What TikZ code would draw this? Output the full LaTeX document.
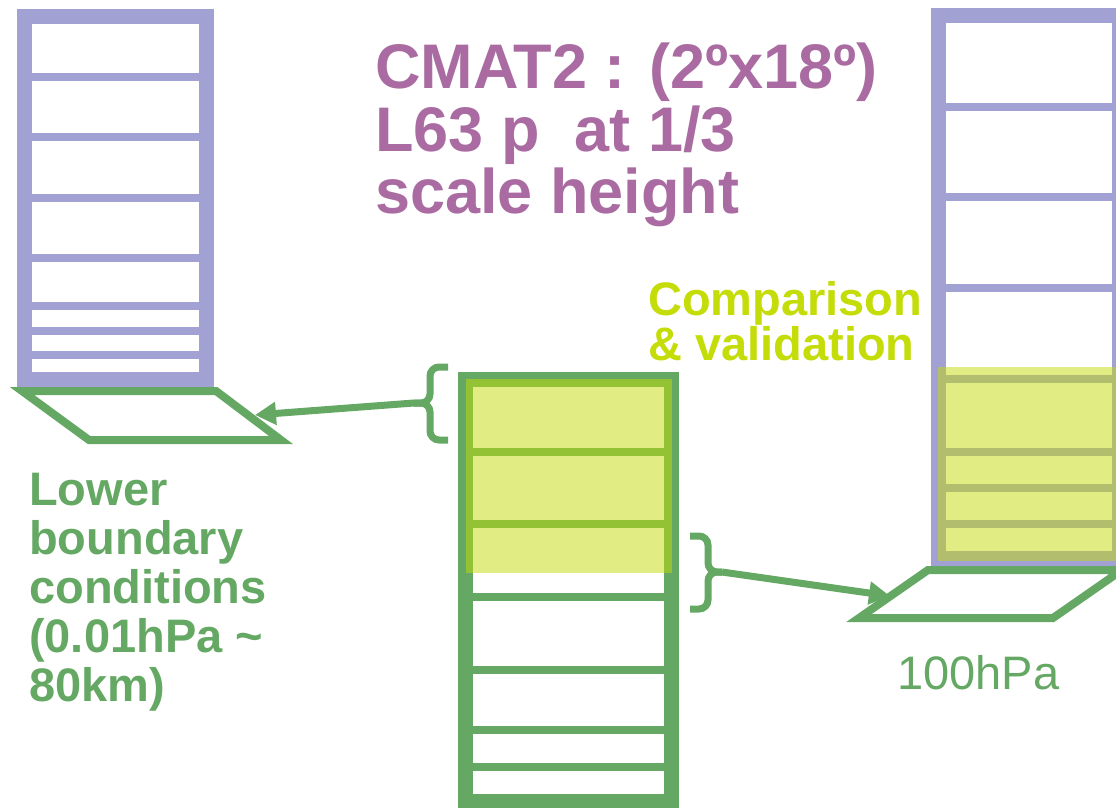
\documentclass[tikz,border=0pt]{standalone}
\usepackage{fontspec}
\setmainfont{Liberation Sans}
\usetikzlibrary{arrows.meta}
\definecolor{levelblue}{RGB}{161,161,212}
\definecolor{levelgreen}{RGB}{100,168,100}
\definecolor{titlepurple}{RGB}{169,107,161}
\definecolor{limegreen}{RGB}{196,220,8}

\tikzset{
  column/.style={line width=15pt},
  level/.style={line width=8pt},
  surface/.style={levelgreen, line width=8pt},
  overlap/.style={fill=limegreen, fill opacity=0.5},
  curly/.style={levelgreen, line width=7pt, rounded corners=9pt},
  feed/.style={levelgreen, line width=7pt, -{Triangle[length=21pt,width=22pt]}},
  bigtext/.style={anchor=north west, inner sep=0pt, align=left}
}

\begin{document}
\begin{tikzpicture}[x=1pt,y=-1pt]
    \useasboundingbox (0,0) rectangle (1116,808);

    % global model column
    \draw[levelblue, column] (24.5,16.5) rectangle (206,379);
    \foreach \y in {77,137,198,258,306,331,355}
        \draw[levelblue, level] (24.5,\y) -- (206,\y);
    \draw[surface] (22,391) -- (216,391) -- (281,440) -- (89,440) -- cycle;

    % middle column
    \draw[levelgreen, column] (465.5,379.5) rectangle (671.5,801.5);
    \foreach \y in {452,524,597,670,730,767}
        \draw[levelgreen, level] (465.5,\y) -- (671.5,\y);
    \fill[overlap] (466,379) rectangle (672,573);

    % right column
    \draw[levelblue, column] (938.5,15.5) rectangle (1119.5,558.5);
    \foreach \y in {107,197,288,379,452,488,524}
        \draw[levelblue, level] (938.5,\y) -- (1119.5,\y);
    \fill[overlap] (938,367) rectangle (1120,561);
    \draw[surface] (928,570) -- (1122,570) -- (1053,618) -- (859,618) -- cycle;

    % braces and arrows
    \coordinate (toptip) at (414,403);
    \coordinate (lowtip) at (722,572);
    \draw[curly] (448,367) -| (430,403) -- (toptip);
    \draw[curly] (448,440) -| (430,403) -- (toptip);
    \draw[curly] (690,536) -| (708,572) -- (lowtip);
    \draw[curly] (690,609) -| (708,572) -- (lowtip);
    \coordinate (leftsurf) at (255,415);
    \coordinate (rightsurf) at (890,596);
    \draw[feed] (toptip) -- (leftsurf);
    \draw[feed] (lowtip) -- (rightsurf);

    % labels
    \node[bigtext, titlepurple, font={\fontsize{63}{62.5}\selectfont\bfseries}] (cmat) at (375,43)
        {CMAT2 : (2ºx18º)\\L63 p\ \ at 1/3\\scale height};
    \node[bigtext, limegreen, font={\fontsize{47}{43}\selectfont\bfseries}] (valid) at (648,281)
        {Comparison\\\& validation};
    \node[bigtext, levelgreen, font={\fontsize{47}{49}\selectfont\bfseries}] (lower) at (29,473)
        {Lower\\boundary\\conditions\\(0.01hPa \textasciitilde\\80km)};
    \node[bigtext, levelgreen, font={\fontsize{47}{49}\selectfont}] (hpa) at (897,655)
        {100hPa};
\end{tikzpicture}
\end{document}
